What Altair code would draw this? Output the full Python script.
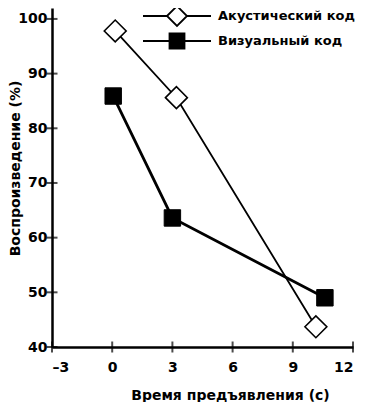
import altair as alt
import pandas as pd

# Data
SERIES = ["Акустический код", "Визуальный код"]
TIME_AC = [0.15, 3.2, 10.15]
RECALL_AC = [97.8, 85.6, 43.7]
TIME_VIS = [0.05, 3.0, 10.6]
RECALL_VIS = [85.9, 63.6, 49.0]
X_TICKS = [-3, 0, 3, 6, 9, 12]
Y_TICKS = [40, 50, 60, 70, 80, 90, 100]

FONT = "DejaVu Sans"

df = pd.DataFrame({
    "t": TIME_AC + TIME_VIS,
    "r": RECALL_AC + RECALL_VIS,
    "series": [SERIES[0]] * len(TIME_AC) + [SERIES[1]] * len(TIME_VIS),
})
ac = df[df.series == SERIES[0]]
vis = df[df.series == SERIES[1]]

xscale = alt.Scale(domain=[-3, 12], nice=False, zero=False)
yscale = alt.Scale(domain=[40, 102], nice=False, zero=False)

xaxis = alt.Axis(values=X_TICKS, ticks=False, grid=False, domainColor="black",
                 domainWidth=2.5, labelFont=FONT, labelFontWeight="bold",
                 labelFontSize=14, labelColor="black", labelPadding=13,
                 labelExpr="datum.value < 0 ? '–' + abs(datum.value) : datum.label",
                 title="Время предъявления (с)", titleFont=FONT, titleFontSize=14,
                 titleFontWeight="bold", titleColor="black", titleX=178, titleY=48,
                 titleBaseline="middle")
yaxis = alt.Axis(values=Y_TICKS, ticks=False, grid=False, domainColor="black",
                 domainWidth=2.5, labelFont=FONT, labelFontWeight="bold",
                 labelFontSize=14, labelColor="black", labelPadding=5,
                 title="Воспроизведение (%)", titleFont=FONT, titleFontSize=14,
                 titleFontWeight="bold", titleColor="black", titleX=-37, titleY=160,
                 titleBaseline="middle")

base_x = alt.X("t:Q", scale=xscale, axis=xaxis)
base_y = alt.Y("r:Q", scale=yscale, axis=yaxis)

line_ac = alt.Chart(ac).mark_line(color="black", strokeWidth=1.8).encode(x=base_x, y=base_y)
line_vis = alt.Chart(vis).mark_line(color="black", strokeWidth=2.8).encode(x=base_x, y=base_y)

pts_ac = alt.Chart(ac).mark_point(shape="diamond", filled=True, fill="white", stroke="black",
                                  strokeWidth=1.6, size=480, opacity=1).encode(x="t:Q", y="r:Q")
pts_vis = alt.Chart(vis).mark_point(shape="square", filled=True, fill="black", stroke="black",
                                    strokeWidth=1, size=270, opacity=1).encode(x="t:Q", y="r:Q")

ticks_x = alt.Chart(pd.DataFrame({"v": X_TICKS})).mark_tick(
    orient="vertical", color="black", size=11, thickness=2).encode(x="v:Q", y=alt.datum(40))
ticks_y = alt.Chart(pd.DataFrame({"v": Y_TICKS})).mark_tick(
    orient="horizontal", color="black", size=11, thickness=2).encode(y="v:Q", x=alt.datum(-3))

PATH_AC = "M-3.4,0L-1,0M1,0L3.4,0M-1,0L0,-1L1,0L0,1Z"
PATH_VIS = "M-3.4,0L-0.75,0M0.75,0L3.4,0M-0.75,-0.75L0.75,-0.75L0.75,0.75L-0.75,0.75Z"

leg = alt.Legend(title=None, orient="none", legendX=114, legendY=-3,
                 padding=0, rowPadding=-1, labelOffset=30,
                 labelFont=FONT, labelFontSize=13, labelFontWeight="bold",
                 labelColor="black", symbolOpacity=1,
                 symbolStrokeColor="black", symbolStrokeWidth=1.8,
                 symbolSize=400)

legend_layer = alt.Chart(df).mark_point(filled=True, size=400, opacity=0,
                                        strokeWidth=1.8).encode(
    x="t:Q", y="r:Q",
    shape=alt.Shape("series:N", scale=alt.Scale(domain=SERIES, range=[PATH_AC, PATH_VIS]),
                    legend=leg),
    fill=alt.Fill("series:N", scale=alt.Scale(domain=SERIES, range=["white", "black"]),
                  legend=leg),
    stroke=alt.Stroke("series:N", scale=alt.Scale(domain=SERIES, range=["black", "black"]),
                      legend=leg),
)

chart = alt.layer(line_ac, line_vis, ticks_x, ticks_y, pts_ac, pts_vis, legend_layer).properties(
    width=301, height=339,
    autosize=alt.AutoSizeParams(type="none"),
    padding={"left": 44, "top": 0, "right": 6, "bottom": 55},
    background="white",
).configure_view(stroke=None)

chart.save("out.html", embed_options={"renderer": "svg", "actions": False})
